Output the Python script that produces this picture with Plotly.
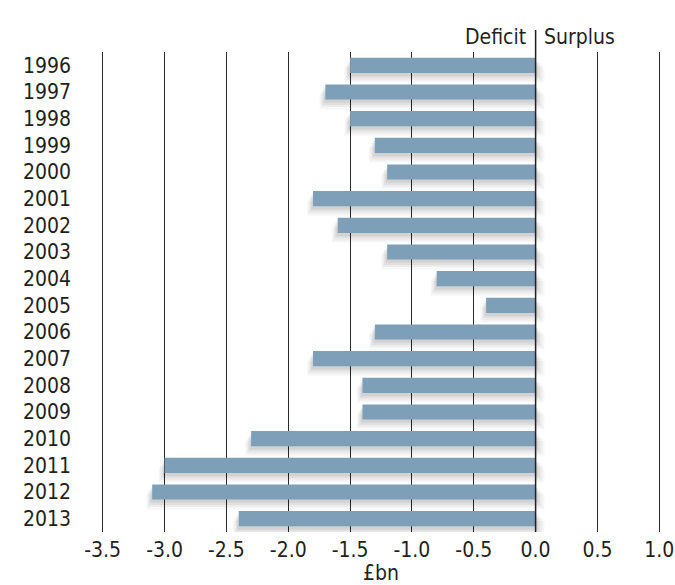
import plotly.graph_objects as go

years = ["1996", "1997", "1998", "1999", "2000", "2001", "2002", "2003", "2004",
         "2005", "2006", "2007", "2008", "2009", "2010", "2011", "2012", "2013"]
balance = [-1.5, -1.7, -1.5, -1.3, -1.2, -1.8, -1.6, -1.2, -0.8,
           -0.4, -1.3, -1.8, -1.4, -1.4, -2.3, -3.0, -3.1, -2.4]
x_ticks = [-3.5, -3.0, -2.5, -2.0, -1.5, -1.0, -0.5, 0.0, 0.5, 1.0]
x_tick_text = ["-3.5", "-3.0", "-2.5", "-2.0", "-1.5", "-1.0", "-0.5", "0.0", "0.5", "1.0"]

FONT = "DejaVu Sans Condensed, Roboto, sans-serif"
TEXT = "#231f20"
BAR = "#7da0b8"
FS = 21

idx = list(range(len(years)))

fig = go.Figure()
# soft diffuse shadows beneath each bar
for off, ext, op in [(0.36, 0.12, 0.03), (0.28, 0.09, 0.04), (0.20, 0.06, 0.05), (0.12, 0.03, 0.06)]:
    fig.add_trace(go.Bar(
        y=idx, x=[v - ext for v in balance], base=ext * 0.6, orientation="h", width=0.57,
        offset=-0.285 + off, marker=dict(color=f"rgba(0,0,0,{op})", line=dict(width=0)),
        hoverinfo="skip", showlegend=False))
fig.add_trace(go.Bar(
    y=idx, x=balance, orientation="h", width=0.57,
    marker=dict(color=BAR, line=dict(width=0)), showlegend=False))

fig.add_shape(type="line", xref="x", yref="paper", x0=0, x1=0, y0=0, y1=1.046,
              line=dict(color=TEXT, width=1.5), layer="above")
fig.add_annotation(x=0, y=1.06, xref="x", yref="paper", text="Deficit",
                   xanchor="right", yanchor="top", showarrow=False, xshift=-8,
                   font=dict(family=FONT, size=FS, color=TEXT))
fig.add_annotation(x=0, y=1.06, xref="x", yref="paper", text="Surplus",
                   xanchor="left", yanchor="top", showarrow=False, xshift=6,
                   font=dict(family=FONT, size=FS, color=TEXT))

# range padded slightly so the end gridlines are drawn
fig.update_layout(
    width=675, height=585,
    margin=dict(l=99, r=12, t=52, b=53, autoexpand=False),
    paper_bgcolor="white", plot_bgcolor="white",
    barmode="overlay",
    font=dict(family=FONT, size=FS, color=TEXT),
    xaxis=dict(range=[-3.53, 1.03], tickvals=x_ticks, ticktext=x_tick_text,
               showgrid=True, gridcolor="#2a2a2a", gridwidth=1.4,
               zeroline=False, showline=False, ticks="", ticklen=0,
               ticklabeloverflow="allow", ticklabelstandoff=3,
               title=dict(text="£bn", standoff=5, font=dict(size=FS)),
               tickfont=dict(size=FS), automargin=False),
    yaxis=dict(range=[len(years) - 0.5, -0.5], tickvals=idx, ticktext=years,
               showgrid=False, zeroline=False, showline=False, ticks="",
               tickfont=dict(size=FS), automargin=False, ticklabelstandoff=27),
)

fig.write_html(
    "out.html",
    config={"displayModeBar": False},
    post_script="document.body.style.margin='0';"
                "document.documentElement.style.overflow='hidden';"
                "document.body.style.overflow='hidden';",
)
